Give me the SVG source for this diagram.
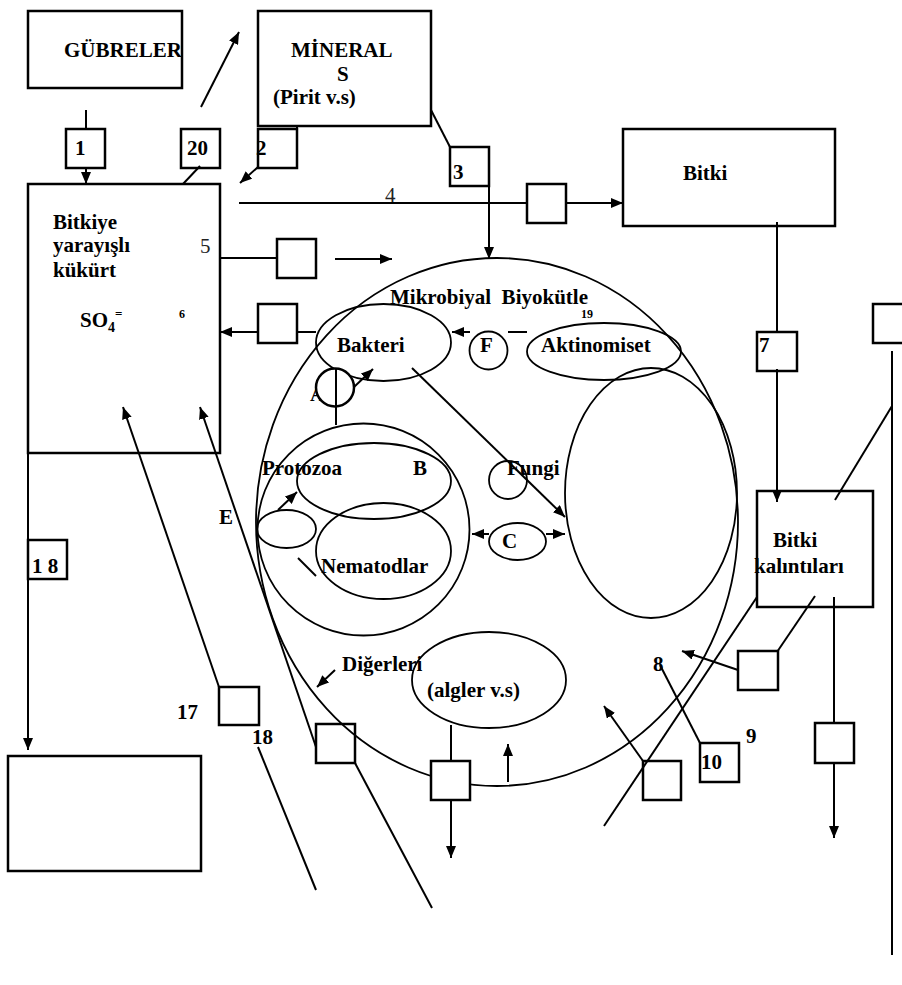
<svg xmlns="http://www.w3.org/2000/svg" width="902" height="985" viewBox="0 0 902 985">
<style>
.bx{fill:#fff;stroke:#000;stroke-width:2.5}
.sb{fill:none;stroke:#000;stroke-width:2.5}
.el{fill:none;stroke:#000;stroke-width:1.8}
.ln{fill:none;stroke:#000;stroke-width:2}
.ar{fill:none;stroke:#000;stroke-width:2;marker-end:url(#ah)}
.t{font-family:"Liberation Serif","Times New Roman",serif;font-weight:bold;font-size:21px;fill:#000}
.r{font-family:"Liberation Serif","Times New Roman",serif;font-size:21px;fill:#222}
.s{font-family:"Liberation Serif","Times New Roman",serif;font-weight:bold;font-size:12px;fill:#000}
</style>
<defs>
<marker id="ah" viewBox="0 0 12 10" refX="12" refY="5" markerWidth="12" markerHeight="10" markerUnits="userSpaceOnUse" orient="auto"><path d="M0,0 L12,5 L0,10 z" fill="#000"/></marker>
</defs>
<rect width="902" height="985" fill="#fff"/>

<g id="gubreler"><rect class="bx" x="28" y="11" width="154" height="77"/><text class="t" x="64" y="57">GÜBRELER</text></g>
<g id="mineral"><rect class="bx" x="258" y="11" width="173" height="115"/><text class="t" x="291" y="57">MİNERAL</text><text class="t" x="337" y="81">S</text><text class="t" x="273" y="104">(Pirit v.s)</text></g>
<g id="bitki"><rect class="bx" x="623" y="129" width="212" height="97"/><text class="t" x="683" y="180">Bitki</text></g>
<g id="kukurt"><rect class="bx" x="28" y="184" width="192" height="269"/>
<text class="t" x="53" y="229">Bitkiye</text><text class="t" x="53" y="252">yarayışlı</text><text class="t" x="53" y="277">kükürt</text>
<text class="t" x="80" y="327">SO<tspan font-size="14" dy="5">4</tspan><tspan font-size="13" dy="-14">=</tspan></text>
<text class="r" x="200" y="253">5</text><text class="s" x="179" y="318">6</text></g>
<g id="bottombox"><rect class="bx" x="8" y="756" width="193" height="115"/></g>
<g id="kalintilar"><rect class="bx" x="757" y="491" width="116" height="116"/><text class="t" x="773" y="547">Bitki</text><text class="t" x="754" y="573">kalıntıları</text></g>

<g id="biomass">
<ellipse class="el" cx="497" cy="522" rx="241" ry="264"/>
<text class="t" x="390" y="304" xml:space="preserve">Mikrobiyal  Biyokütle</text>
<text class="s" x="581" y="318">19</text>
</g>
<g id="bakteri"><ellipse class="el" cx="383.5" cy="342.5" rx="67.5" ry="38.5"/><text class="t" x="337" y="352">Bakteri</text></g>
<g id="F"><circle class="el" cx="488.5" cy="350.5" r="19"/><text class="t" x="480" y="352">F</text></g>
<g id="aktinomiset"><ellipse class="el" cx="604" cy="351.5" rx="77" ry="28.5"/><text class="t" x="541" y="352">Aktinomiset</text></g>
<g id="A"><text class="t" x="310" y="401">A</text><circle cx="335" cy="387.5" r="19" fill="#fff" stroke="#000" stroke-width="2.5"/></g>
<g id="protozoa"><circle class="el" cx="363.5" cy="529.5" r="106"/><ellipse class="el" cx="374" cy="481" rx="77" ry="38"/><text class="t" x="262" y="475">Protozoa</text><text class="t" x="413" y="475">B</text></g>
<g id="nematodlar"><ellipse class="el" cx="383.5" cy="551" rx="67.5" ry="48"/><text class="t" x="321" y="573">Nematodlar</text></g>
<g id="small"><ellipse class="el" cx="286.5" cy="529" rx="29.5" ry="19"/></g>
<g id="fungi"><circle class="el" cx="508" cy="480" r="19"/><text class="t" x="507" y="475">Fungi</text><ellipse class="el" cx="651" cy="493" rx="86" ry="125"/></g>
<g id="C"><ellipse class="el" cx="517.5" cy="541.5" rx="28.5" ry="18.5"/><text class="t" x="502" y="548">C</text></g>
<g id="algler"><ellipse class="el" cx="489" cy="680" rx="77" ry="48"/><text class="t" x="427" y="697">(algler v.s)</text><text class="t" x="342" y="671">Diğerleri</text></g>

<g id="boxes">
<rect class="sb" x="66" y="129" width="39" height="39"/><text class="t" x="75" y="155">1</text>
<rect class="sb" x="181" y="129" width="39" height="39"/><text class="t" x="187" y="155">20</text>
<rect class="sb" x="258" y="129" width="39" height="39"/><text class="t" x="256" y="155">2</text>
<rect class="sb" x="450" y="147" width="39" height="39"/><text class="t" x="453" y="179">3</text>
<rect class="bx" x="527" y="184" width="39" height="39"/>
<rect class="sb" x="277" y="239" width="39" height="39"/>
<rect class="sb" x="258" y="304" width="39" height="39"/>
<rect class="sb" x="757" y="332" width="40" height="39"/><text class="t" x="759" y="352">7</text>
<rect class="sb" x="873" y="304" width="40" height="39"/>
<rect class="sb" x="28" y="540" width="39" height="39"/><text class="t" x="32" y="573">1 8</text>
<rect class="sb" x="219" y="687" width="40" height="38"/><text class="t" x="177" y="719">17</text>
<rect class="sb" x="316" y="724" width="39" height="39"/><text class="t" x="252" y="744">18</text>
<rect class="bx" x="431" y="761" width="39" height="39"/>
<rect class="bx" x="643" y="761" width="38" height="39"/>
<rect class="sb" x="700" y="743" width="39" height="39"/><text class="t" x="701" y="769">10</text><text class="t" x="746" y="743">9</text>
<rect class="sb" x="738" y="651" width="40" height="39"/>
<rect class="sb" x="815" y="723" width="39" height="40"/>
<text class="r" x="385" y="202">4</text>
<text class="t" x="219" y="524">E</text>
<text class="t" x="653" y="671">8</text>
</g>

<g id="connectors">
<line class="ln" x1="86" y1="110" x2="86" y2="129"/>
<line class="ar" x1="86" y1="168" x2="86" y2="184"/>
<line class="ln" x1="200" y1="166" x2="183" y2="184"/>
<line class="ar" x1="201" y1="107" x2="239" y2="32"/>
<line class="ar" x1="258" y1="167" x2="240" y2="183"/>
<line class="ln" x1="297" y1="125" x2="297" y2="129"/>
<line class="ln" x1="431" y1="110" x2="450" y2="147"/>
<line class="ar" x1="489" y1="186" x2="489" y2="259"/>
<line class="ln" x1="239" y1="203" x2="527" y2="203"/>
<line class="ar" x1="566" y1="203" x2="623" y2="203"/>
<line class="ln" x1="220" y1="258" x2="277" y2="258"/>
<line class="ar" x1="335" y1="259" x2="392" y2="259"/>
<line class="ar" x1="258" y1="332" x2="220" y2="332"/>
<line class="ln" x1="297" y1="332" x2="316" y2="332"/>
<line class="ar" x1="470" y1="332" x2="452" y2="332"/>
<line class="ln" x1="508" y1="332" x2="527" y2="332"/>
<line class="ln" x1="336" y1="368" x2="336" y2="425"/>
<line class="ar" x1="354" y1="387" x2="373" y2="369"/>
<line class="ar" x1="412" y1="368" x2="565" y2="517"/>
<line class="ar" x1="278" y1="510" x2="297" y2="492"/>
<line class="ln" x1="298" y1="558" x2="316" y2="576"/>
<line class="ar" x1="489" y1="534" x2="472" y2="534"/>
<line class="ar" x1="546" y1="534" x2="565" y2="534"/>
<line class="ln" x1="777" y1="222" x2="777" y2="332"/>
<line class="ar" x1="777" y1="369" x2="777" y2="502"/>
<line class="ln" x1="892" y1="351" x2="892" y2="955"/>
<line class="ln" x1="892" y1="406" x2="835" y2="500"/>
<line class="ar" x1="28" y1="453" x2="28" y2="750"/>
<line class="ar" x1="219" y1="687" x2="123" y2="407"/>
<line class="ar" x1="316" y1="747" x2="200" y2="407"/>
<line class="ln" x1="355" y1="763" x2="432" y2="908"/>
<line class="ln" x1="258" y1="747" x2="316" y2="890"/>
<line class="ar" x1="335" y1="670" x2="317" y2="687"/>
<line class="ln" x1="451" y1="725" x2="451" y2="761"/>
<line class="ar" x1="451" y1="800" x2="451" y2="858"/>
<line class="ar" x1="508" y1="782" x2="508" y2="744"/>
<line class="ln" x1="815" y1="596" x2="777" y2="652"/>
<line class="ar" x1="738" y1="670" x2="682" y2="651"/>
<line class="ln" x1="660" y1="665" x2="700" y2="743"/>
<line class="ln" x1="757" y1="597" x2="604" y2="826"/>
<line class="ar" x1="643" y1="761" x2="604" y2="706"/>
<line class="ln" x1="834" y1="597" x2="834" y2="723"/>
<line class="ar" x1="834" y1="763" x2="834" y2="838"/>
</g>
</svg>
